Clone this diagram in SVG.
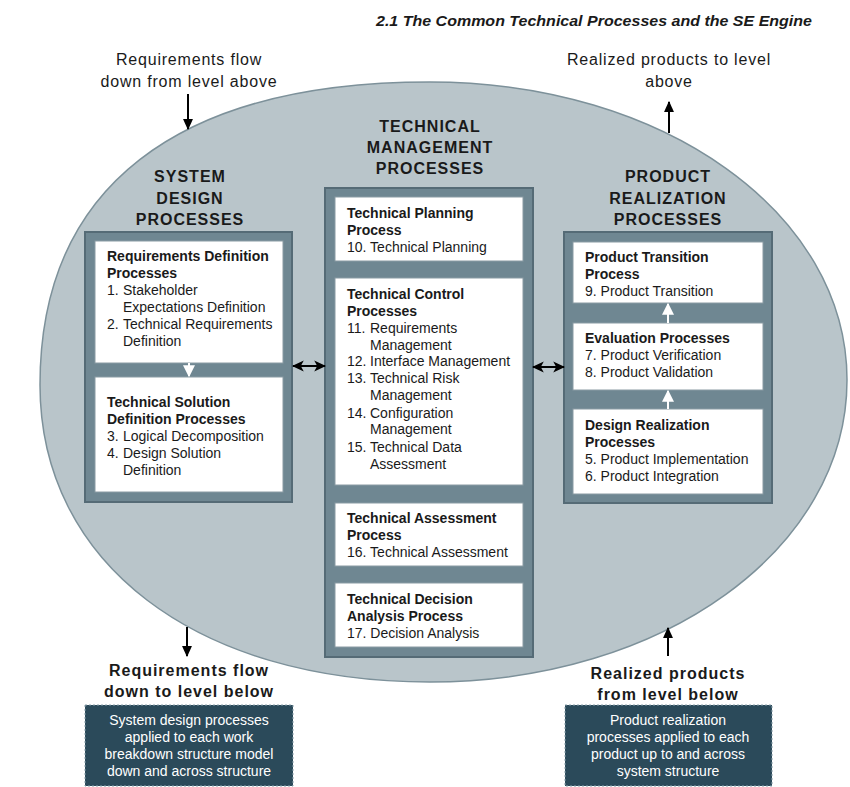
<svg xmlns="http://www.w3.org/2000/svg" width="850" height="787" viewBox="0 0 850 787">
<defs>
<style>
text{font-family:"Liberation Sans",Arial,sans-serif;fill:#1a1a1a}
.t{font-size:14px}
.b{font-size:14px;font-weight:bold}
.sec{font-size:16px;font-weight:bold;letter-spacing:1px;text-anchor:middle}
.lab{font-size:16px;letter-spacing:0.8px;text-anchor:middle}
.labb{font-size:16px;font-weight:bold;letter-spacing:1px;text-anchor:middle}
.wt{font-size:14px;fill:#ffffff;text-anchor:middle}
.panel{fill:#6f8792;stroke:#556b76;stroke-width:2}
.box{fill:#ffffff;stroke:#8a9ba3;stroke-width:1}
.note{fill:#2b4a5a;stroke:#8aa0ab;stroke-width:1;stroke-dasharray:2 2}
.blk{stroke:#000;stroke-width:2;fill:none}
.wht{stroke:#fff;stroke-width:2;fill:none}
</style>
<marker id="ah" viewBox="0 0 10 10" refX="9" refY="5" markerWidth="11" markerHeight="11" orient="auto-start-reverse" markerUnits="userSpaceOnUse">
<path d="M0,0.5 L10,5 L0,9.5 z" fill="#000"/>
</marker>
<marker id="ahb" viewBox="0 0 10 10" refX="9" refY="5" markerWidth="12" markerHeight="12" orient="auto-start-reverse" markerUnits="userSpaceOnUse">
<path d="M0,0.5 L10,5 L0,9.5 L2.5,5 z" fill="#000"/>
</marker>
<marker id="ahw" viewBox="0 0 10 10" refX="9" refY="5" markerWidth="12" markerHeight="12" orient="auto" markerUnits="userSpaceOnUse">
<path d="M0,0 L10,5 L0,10 z" fill="#fff"/>
</marker>
</defs>

<rect x="0" y="0" width="850" height="787" fill="#ffffff"/>

<text x="812" y="26" text-anchor="end" textLength="436" lengthAdjust="spacingAndGlyphs" style="font-size:15.5px;font-weight:bold;font-style:italic">2.1 The Common Technical Processes and the SE Engine</text>

<g id="engine">
<path d="M40,385 C40,188 176,82 430,82 C663,82 847,213 847,380 C847,549 663,682 430,682 C196,682 40,563 40,385 Z" fill="#b9c5ca" stroke="#7d919a" stroke-width="1.5"/>
</g>

<g id="top-left-label">
<text class="lab" x="189" y="65">Requirements flow</text>
<text class="lab" x="189" y="87">down from level above</text>
</g>
<g id="top-right-label">
<text class="lab" x="669" y="65">Realized products to level</text>
<text class="lab" x="669" y="87">above</text>
</g>

<g id="system-design">
<text class="sec" x="190" y="182">SYSTEM</text>
<text class="sec" x="190" y="204">DESIGN</text>
<text class="sec" x="190" y="225">PROCESSES</text>
<rect class="panel" x="85" y="232" width="207" height="270"/>
</g>
<g id="req-def">
<rect class="box" x="95" y="241" width="188" height="122"/>
<text class="b" x="107" y="261">Requirements Definition</text>
<text class="b" x="107" y="278">Processes</text>
<text class="t" x="107" y="295">1.</text><text class="t" x="123" y="295">Stakeholder</text>
<text class="t" x="123" y="312">Expectations Definition</text>
<text class="t" x="107" y="329">2.</text><text class="t" x="123" y="329">Technical Requirements</text>
<text class="t" x="123" y="346">Definition</text>
</g>
<g id="tech-sol">
<rect class="box" x="95" y="377" width="188" height="115"/>
<text class="b" x="107" y="407">Technical Solution</text>
<text class="b" x="107" y="424">Definition Processes</text>
<text class="t" x="107" y="441">3.</text><text class="t" x="123" y="441">Logical Decomposition</text>
<text class="t" x="107" y="458">4.</text><text class="t" x="123" y="458">Design Solution</text>
<text class="t" x="123" y="475">Definition</text>
</g>

<g id="tech-mgmt">
<text class="sec" x="430" y="132">TECHNICAL</text>
<text class="sec" x="430" y="153">MANAGEMENT</text>
<text class="sec" x="430" y="174">PROCESSES</text>
<rect class="panel" x="325" y="188" width="208" height="469"/>
</g>
<g id="tech-planning">
<rect class="box" x="335" y="197" width="188" height="64"/>
<text class="b" x="347" y="218">Technical Planning</text>
<text class="b" x="347" y="235">Process</text>
<text class="t" x="347" y="252">10. Technical Planning</text>
</g>
<g id="tech-control">
<rect class="box" x="335" y="278" width="188" height="207"/>
<text class="b" x="347" y="299">Technical Control</text>
<text class="b" x="347" y="316">Processes</text>
<text class="t" x="347" y="333">11.</text><text class="t" x="370" y="333">Requirements</text>
<text class="t" x="370" y="350">Management</text>
<text class="t" x="347" y="366">12.</text><text class="t" x="370" y="366">Interface Management</text>
<text class="t" x="347" y="383">13.</text><text class="t" x="370" y="383">Technical Risk</text>
<text class="t" x="370" y="400">Management</text>
<text class="t" x="347" y="418">14.</text><text class="t" x="370" y="418">Configuration</text>
<text class="t" x="370" y="434">Management</text>
<text class="t" x="347" y="452">15.</text><text class="t" x="370" y="452">Technical Data</text>
<text class="t" x="370" y="469">Assessment</text>
</g>
<g id="tech-assess">
<rect class="box" x="335" y="503" width="188" height="63"/>
<text class="b" x="347" y="523">Technical Assessment</text>
<text class="b" x="347" y="540">Process</text>
<text class="t" x="347" y="557">16. Technical Assessment</text>
</g>
<g id="tech-decision">
<rect class="box" x="335" y="583" width="188" height="64"/>
<text class="b" x="347" y="604">Technical Decision</text>
<text class="b" x="347" y="621">Analysis Process</text>
<text class="t" x="347" y="638">17. Decision Analysis</text>
</g>

<g id="product-realization">
<text class="sec" x="668" y="182">PRODUCT</text>
<text class="sec" x="668" y="204">REALIZATION</text>
<text class="sec" x="668" y="225">PROCESSES</text>
<rect class="panel" x="564" y="232" width="208" height="271"/>
</g>
<g id="product-transition">
<rect class="box" x="573" y="242" width="190" height="61"/>
<text class="b" x="585" y="262">Product Transition</text>
<text class="b" x="585" y="279">Process</text>
<text class="t" x="585" y="296">9. Product Transition</text>
</g>
<g id="evaluation">
<rect class="box" x="573" y="323" width="190" height="67"/>
<text class="b" x="585" y="343">Evaluation Processes</text>
<text class="t" x="585" y="360">7. Product Verification</text>
<text class="t" x="585" y="377">8. Product Validation</text>
</g>
<g id="design-realization">
<rect class="box" x="573" y="409" width="190" height="85"/>
<text class="b" x="585" y="430">Design Realization</text>
<text class="b" x="585" y="447">Processes</text>
<text class="t" x="585" y="464">5. Product Implementation</text>
<text class="t" x="585" y="481">6. Product Integration</text>
</g>

<g id="bottom-left">
<text class="labb" x="189" y="676">Requirements flow</text>
<text class="labb" x="189" y="697">down to level below</text>
<rect class="note" x="85" y="705" width="208" height="81"/>
<text class="wt" x="189" y="725">System design processes</text>
<text class="wt" x="189" y="742">applied to each work</text>
<text class="wt" x="189" y="759">breakdown structure model</text>
<text class="wt" x="189" y="776">down and across structure</text>
</g>
<g id="bottom-right">
<text class="labb" x="668" y="679">Realized products</text>
<text class="labb" x="668" y="700">from level below</text>
<rect class="note" x="565" y="705" width="207" height="81"/>
<text class="wt" x="668" y="725">Product realization</text>
<text class="wt" x="668" y="742">processes applied to each</text>
<text class="wt" x="668" y="759">product up to and across</text>
<text class="wt" x="668" y="776">system structure</text>
</g>

<g id="connectors">
<line class="blk" x1="188" y1="94" x2="188" y2="129" marker-end="url(#ah)"/>
<line class="blk" x1="669" y1="133" x2="669" y2="102" marker-end="url(#ah)"/>
<line class="blk" x1="187" y1="627" x2="187" y2="656" marker-end="url(#ah)"/>
<line class="blk" x1="668" y1="656" x2="668" y2="628" marker-end="url(#ah)"/>
<line class="blk" x1="293" y1="366" x2="325" y2="366" marker-start="url(#ahb)" marker-end="url(#ahb)"/>
<line class="blk" x1="533" y1="367" x2="564" y2="367" marker-start="url(#ahb)" marker-end="url(#ahb)"/>
<line class="wht" x1="189" y1="363" x2="189" y2="376" marker-end="url(#ahw)"/>
<line class="wht" x1="668" y1="323" x2="668" y2="304" marker-end="url(#ahw)"/>
<line class="wht" x1="668" y1="409" x2="668" y2="391" marker-end="url(#ahw)"/>
</g>
</svg>
